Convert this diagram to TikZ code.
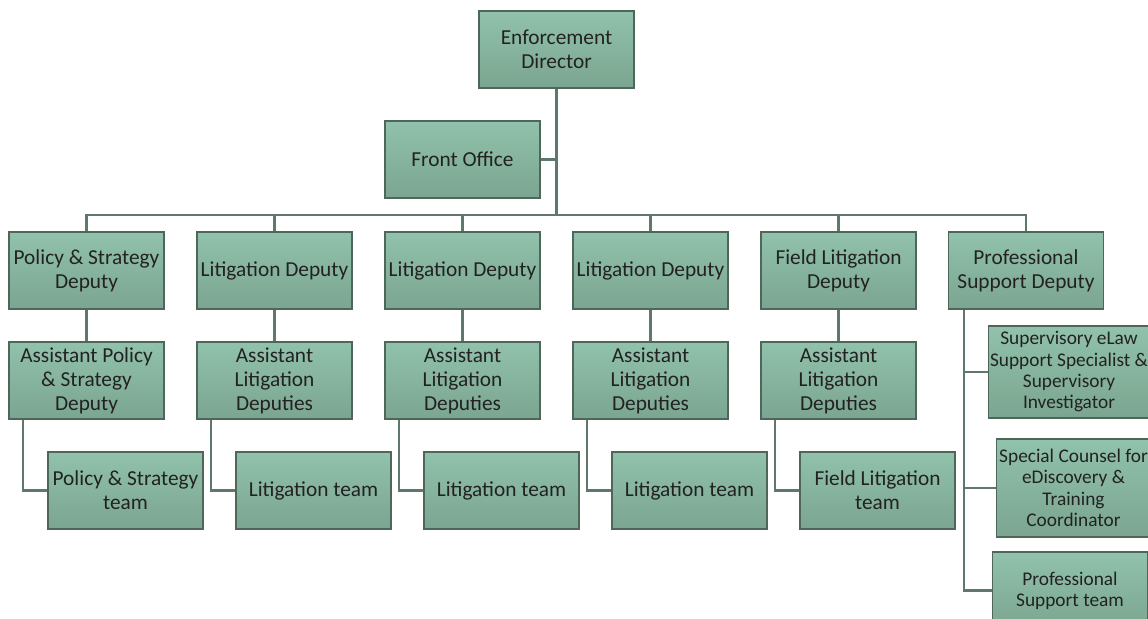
\documentclass[tikz,border=0pt]{standalone}
\usepackage{fontspec}
\setmainfont{Carlito}
\definecolor{boxtop}{HTML}{91C2AB}
\definecolor{boxbot}{HTML}{7BA590}
\definecolor{boxline}{HTML}{4F665A}
\definecolor{linkline}{HTML}{5E796C}
\definecolor{unittext}{HTML}{222222}
\begin{document}
\begin{tikzpicture}[x=0.75pt, y=-0.75pt,
    unit/.style={draw=boxline, line width=0.9pt, top color=boxtop, bottom color=boxbot,
        minimum width=116.25pt, minimum height=57.75pt, align=center, inner sep=1pt,
        text=unittext, font=\fontsize{16}{18}\selectfont},
    small unit/.style={unit, font=\fontsize{14.5}{16}\selectfont},
    link/.style={draw=linkline, line width=1.6pt}]
    \useasboundingbox (0,0) rectangle (1148,618);
    \clip (0,0) rectangle (1148,618);
    \node [unit] (dir) at (556.5,49.5) {Enforcement\\Director};
    \node [unit] (front) at (462.5,159.5) {Front Office};
    \coordinate (bar) at (556.5,215);
    \node [unit] (pol) at (86.5,270.5) {Policy \& Strategy\\Deputy};
    \node [unit] (lita) at (274.5,270.5) {Litigation Deputy};
    \node [unit] (litb) at (462.5,270.5) {Litigation Deputy};
    \node [unit] (litc) at (650.5,270.5) {Litigation Deputy};
    \node [unit] (field) at (838.5,270.5) {Field Litigation\\Deputy};
    \node [unit] (prof) at (1026,270.5) {Professional\\Support Deputy};
    \node [unit] (apol) at (86.5,380.5) {Assistant Policy\\\& Strategy\\Deputy};
    \node [unit] (alita) at (274.5,380.5) {Assistant\\Litigation\\Deputies};
    \node [unit] (alitb) at (462.5,380.5) {Assistant\\Litigation\\Deputies};
    \node [unit] (alitc) at (650.5,380.5) {Assistant\\Litigation\\Deputies};
    \node [unit] (afield) at (838.5,380.5) {Assistant\\Litigation\\Deputies};
    \node [unit] (polteam) at (125.5,490.5) {Policy \& Strategy\\team};
    \node [unit] (litateam) at (313.5,490.5) {Litigation team};
    \node [unit] (litbteam) at (501.5,490.5) {Litigation team};
    \node [unit] (litcteam) at (689.5,490.5) {Litigation team};
    \node [unit] (fieldteam) at (877.5,490.5) {Field Litigation\\team};
    \node [small unit, minimum width=120pt, minimum height=69pt] (sup) at (1069,372)
        {Supervisory eLaw\\Support Specialist \&\\Supervisory\\Investigator};
    \node [small unit, minimum width=115pt, minimum height=73.5pt] (counsel) at (1073.5,488)
        {Special Counsel for\\eDiscovery \&\\Training\\Coordinator};
    \node [small unit] (profteam) at (1070,590.5) {Professional\\Support team};
    \draw [link] (dir.south) -- (bar);
    \draw [link] (front.east) -- (front.east -| dir.south);
    \foreach \n in {pol, lita, litb, litc, field, prof}
        \draw [link] (\n.north) |- (bar);
    \foreach \a/\b in {pol/apol, lita/alita, litb/alitb, litc/alitc, field/afield}
        \draw [link] (\a.south) -- (\b.north);
    \foreach \a/\b in {apol/polteam, alita/litateam, alitb/litbteam, alitc/litcteam, afield/fieldteam}
        \draw [link] ([xshift=11.25pt]\a.south west) |- (\b.west);
    \foreach \b in {sup, counsel, profteam}
        \draw [link] ([xshift=12pt]prof.south west) |- (\b.west);
\end{tikzpicture}
\end{document}
